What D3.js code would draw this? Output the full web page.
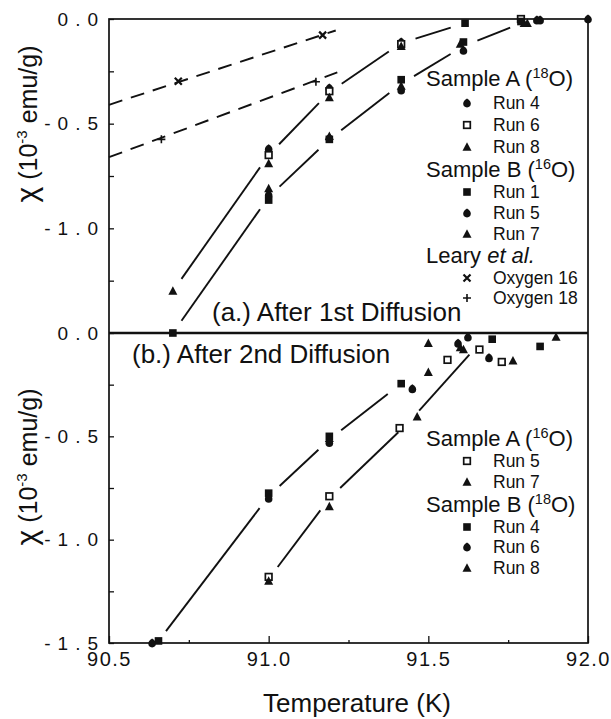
<!DOCTYPE html>
<html>
<head>
<meta charset="utf-8">
<script src="https://cdn.jsdelivr.net/npm/d3@7"></script>
<style>
  body { margin: 0; background: #fff; }
  text { font-family: "Liberation Sans", Arial, Helvetica, sans-serif; fill: #111; }
</style>
</head>
<body>
<div id="chart"></div>
<script>
// axis ticks
const xTicks = [90.5, 91.0, 91.5, 92.0];
const xMinor = [90.75, 91.25, 91.75];
const yTicksA = [0, -0.5, -1.0];
const yTicksB = [0, -0.5, -1.0, -1.5];
const yMinor = [-0.25, -0.75, -1.25];

// (a.) after 1st diffusion : [T (K), chi (1e-3 emu/g)]
const aSampleA4 = [[91.0, -0.62], [91.19, -0.33], [91.415, -0.11], [91.85, -0.005]];
const aSampleA6 = [[91.0, -0.65], [91.19, -0.345], [91.415, -0.12], [91.79, 0.0]];
const aSampleA8 = [[90.7, -1.30], [91.0, -0.69], [91.19, -0.375], [91.415, -0.13], [91.81, -0.02]];
const aSampleB1 = [[90.7, -1.50], [91.0, -0.865], [91.19, -0.575], [91.415, -0.29], [91.615, -0.02], [91.61, -0.11], [91.79, -0.012]];
const aSampleB5 = [[91.0, -0.84], [91.19, -0.57], [91.415, -0.34], [91.61, -0.15], [91.84, -0.005], [92.0, 0.0]];
const aSampleB7 = [[91.0, -0.81], [91.19, -0.56], [91.415, -0.32], [91.6, -0.12], [91.8, -0.02]];
const learyO16 = [[90.717, -0.297], [91.169, -0.077]];
const learyO18 = [[90.664, -0.575], [91.148, -0.30]];
const learyFit16 = [[90.5, -0.41], [91.21, -0.055]];
const learyFit18 = [[90.5, -0.66], [91.215, -0.255]];
const aGuideUpper = [[90.7, -1.30], [91.0, -0.65], [91.19, -0.35], [91.415, -0.115], [91.615, -0.02]];
const aGuideLower = [[90.7, -1.50], [91.0, -0.85], [91.19, -0.575], [91.415, -0.31], [91.61, -0.13], [91.8, -0.015]];

// (b.) after 2nd diffusion
const bSampleA5 = [[91.0, -1.18], [91.19, -0.79], [91.41, -0.46], [91.56, -0.13], [91.66, -0.08], [91.73, -0.14]];
const bSampleA7 = [[91.0, -1.20], [91.19, -0.84], [91.465, -0.405], [91.5, -0.19], [91.5, -0.05], [91.61, -0.08], [91.765, -0.135]];
const bSampleB4 = [[90.655, -1.49], [91.0, -0.775], [91.19, -0.50], [91.415, -0.245], [91.70, -0.03], [91.85, -0.065]];
const bSampleB6 = [[90.635, -1.50], [91.0, -0.80], [91.19, -0.53], [91.45, -0.27], [91.593, -0.05], [91.624, -0.02], [91.69, -0.12]];
const bSampleB8 = [[91.19, -0.51], [91.6, -0.07], [91.90, -0.02]];
const bGuideUpper = [[90.65, -1.5], [91.0, -0.79], [91.19, -0.515], [91.41, -0.25]];
const bGuideLower = [[91.0, -1.19], [91.19, -0.80], [91.44, -0.43], [91.66, -0.05]];

// legend text
const legendA = [
  { head: "Sample A (", iso: "18" },
  { run: "Run 4", mark: "circle" }, { run: "Run 6", mark: "open" }, { run: "Run 8", mark: "tri" },
  { head: "Sample B (", iso: "16" },
  { run: "Run 1", mark: "square" }, { run: "Run 5", mark: "circle" }, { run: "Run 7", mark: "tri" },
  { head: "Leary ", ital: "et al." },
  { run: "Oxygen 16", mark: "x" }, { run: "Oxygen 18", mark: "plus" }
];
const legendB = [
  { head: "Sample A (", iso: "16" },
  { run: "Run 5", mark: "open" }, { run: "Run 7", mark: "tri" },
  { head: "Sample B (", iso: "18" },
  { run: "Run 4", mark: "square" }, { run: "Run 6", mark: "circle" }, { run: "Run 8", mark: "tri" }
];

const width = 611, height = 719;
const plotL = 109, plotR = 588, plotT = 19, plotM = 333, plotB = 643;
// legend row baselines (layout)
const rowsA = [86, 109, 131, 153, 177, 198, 219, 240, 263, 284, 304];
const rowsB = [446, 467, 488, 512, 533, 553, 574];

const x = d3.scaleLinear().domain([90.5, 92.0]).range([plotL, plotR]);
const yA = d3.scaleLinear().domain([-1.5, 0]).range([plotM, plotT]);
const yB = d3.scaleLinear().domain([-1.5, 0]).range([plotB, plotM]);

const svg = d3.select("#chart").append("svg")
  .attr("width", width).attr("height", height);

function marker(g, type, px, py) {
  if (type === "square") {
    g.append("rect").attr("x", px - 3.8).attr("y", py - 3.8).attr("width", 7.6).attr("height", 7.6).attr("fill", "#111");
  } else if (type === "open") {
    g.append("rect").attr("x", px - 3.3).attr("y", py - 3.3).attr("width", 6.6).attr("height", 6.6)
      .attr("fill", "#fff").attr("stroke", "#111").attr("stroke-width", 1.7);
  } else if (type === "tri") {
    g.append("path").attr("transform", `translate(${px},${py})`)
      .attr("d", "M0,-4.8L4.5,3.7L-4.5,3.7Z").attr("fill", "#111");
  } else if (type === "circle") {
    g.append("path").attr("transform", `translate(${px},${py})`)
      .attr("d", "M0,-4.5C2.7,-2.7 3.8,-1.2 3.8,0.6A3.8,3.8 0 0 1 -3.8,0.6C-3.8,-1.2 -2.7,-2.7 0,-4.5Z").attr("fill", "#111");
  } else if (type === "x") {
    g.append("path").attr("transform", `translate(${px},${py})`)
      .attr("d", "M-3.5,-3.5L3.5,3.5M-3.5,3.5L3.5,-3.5").attr("stroke", "#111").attr("stroke-width", 2.2);
  } else if (type === "plus") {
    g.append("path").attr("transform", `translate(${px},${py})`)
      .attr("d", "M-4,0L4,0M0,-4L0,4").attr("stroke", "#111").attr("stroke-width", 1.6);
  }
}

function points(g, data, type, y) {
  data.forEach(d => marker(g, type, x(d[0]), y(d[1])));
}

// solid guide lines broken around the data clusters
function guide(g, knots, y, gap) {
  for (let i = 0; i < knots.length - 1; i++) {
    const x0 = x(knots[i][0]), y0 = y(knots[i][1]);
    const x1 = x(knots[i + 1][0]), y1 = y(knots[i + 1][1]);
    const len = Math.hypot(x1 - x0, y1 - y0);
    if (len <= 2 * gap) continue;
    const ux = (x1 - x0) / len, uy = (y1 - y0) / len;
    g.append("line")
      .attr("x1", x0 + ux * gap).attr("y1", y0 + uy * gap)
      .attr("x2", x1 - ux * gap).attr("y2", y1 - uy * gap)
      .attr("stroke", "#111").attr("stroke-width", 1.9);
  }
}

function dashed(g, knots, y) {
  g.append("path")
    .attr("d", d3.line().x(d => x(d[0])).y(d => y(d[1]))(knots))
    .attr("fill", "none").attr("stroke", "#111").attr("stroke-width", 1.9)
    .attr("stroke-dasharray", "14,9");
}

function legend(g, items, rows) {
  items.forEach((it, i) => {
    const yy = rows[i];
    if (it.head) {
      const t = g.append("text").attr("x", 426).attr("y", yy).attr("font-size", 22).text(it.head);
      if (it.iso) {
        t.append("tspan").attr("font-size", 14.5).attr("dy", -8).text(it.iso);
        t.append("tspan").attr("dy", 8).text("O)");
      }
      if (it.ital) t.append("tspan").attr("font-style", "italic").text(it.ital);
    } else {
      marker(g, it.mark, 467, yy - 6);
      g.append("text").attr("x", 493).attr("y", yy).attr("font-size", 17.5).text(it.run);
    }
  });
}

// axes
const fmt = d => d.toFixed(1);
function yAxis(scale, ticks) {
  const g = svg.append("g").attr("transform", `translate(${plotL},0)`);
  g.call(d3.axisLeft(scale).tickValues(ticks).tickFormat(fmt).tickSizeInner(-5).tickSizeOuter(0).tickPadding(4));
  g.append("g").call(d3.axisLeft(scale).tickValues(yMinor).tickFormat("").tickSizeInner(-5).tickSizeOuter(0));
  g.selectAll(".domain").remove();
  g.selectAll("line").attr("stroke", "#111").attr("stroke-width", 1.3);
  g.selectAll("text").attr("font-size", 19).attr("letter-spacing", "7px")
    .attr("font-family", "'Liberation Sans', Arial, sans-serif").attr("fill", "#111");
}
yAxis(yA, yTicksA);
yAxis(yB, yTicksB);

const gx = svg.append("g").attr("transform", `translate(0,${plotB})`);
gx.call(d3.axisBottom(x).tickValues(xTicks).tickFormat(fmt).tickSizeInner(-7).tickSizeOuter(0).tickPadding(9));
gx.append("g").call(d3.axisBottom(x).tickValues(xMinor).tickFormat("").tickSizeInner(-3).tickSizeOuter(0));
gx.selectAll(".domain").remove();
gx.selectAll("line").attr("stroke", "#111").attr("stroke-width", 1.3);
gx.selectAll("text").attr("font-size", 20).attr("letter-spacing", "1.5px")
  .attr("font-family", "'Liberation Sans', Arial, sans-serif").attr("fill", "#111");

// frames
svg.append("rect").attr("x", plotL).attr("y", plotT).attr("width", plotR - plotL).attr("height", plotB - plotT)
  .attr("fill", "none").attr("stroke", "#111").attr("stroke-width", 1.7);
svg.append("line").attr("x1", plotL).attr("x2", plotR).attr("y1", plotM).attr("y2", plotM)
  .attr("stroke", "#111").attr("stroke-width", 2.5);

// panel a
const pa = svg.append("g");
dashed(pa, learyFit16, yA);
dashed(pa, learyFit18, yA);
guide(pa, aGuideUpper, yA, 15);
guide(pa, aGuideLower, yA, 15);
points(pa, aSampleA4, "circle", yA);
points(pa, aSampleA6, "open", yA);
points(pa, aSampleA8, "tri", yA);
points(pa, aSampleB1, "square", yA);
points(pa, aSampleB5, "circle", yA);
points(pa, aSampleB7, "tri", yA);
points(pa, learyO16, "x", yA);
points(pa, learyO18, "plus", yA);
legend(pa, legendA, rowsA);
pa.append("text").attr("x", 212).attr("y", 321).attr("font-size", 26).text("(a.) After 1st Diffusion");

// panel b
const pb = svg.append("g");
guide(pb, bGuideUpper, yB, 15);
guide(pb, bGuideLower, yB, 15);
points(pb, bSampleA5, "open", yB);
points(pb, bSampleA7, "tri", yB);
points(pb, bSampleB4, "square", yB);
points(pb, bSampleB6, "circle", yB);
points(pb, bSampleB8, "tri", yB);
legend(pb, legendB, rowsB);
pb.append("text").attr("x", 132).attr("y", 363).attr("font-size", 26).text("(b.) After 2nd Diffusion");

// titles
function yTitle(cy) {
  const t = svg.append("text").attr("transform", `translate(37,${cy}) rotate(-90)`)
    .attr("text-anchor", "middle").attr("font-size", 25);
  t.append("tspan").attr("font-size", 30).text("χ");
  t.append("tspan").text(" (10");
  t.append("tspan").attr("font-size", 15).attr("dy", -10).text("-3");
  t.append("tspan").attr("dy", 10).text(" emu/g)");
}
yTitle(124);
yTitle(467);

svg.append("text").attr("x", 357).attr("y", 712).attr("text-anchor", "middle")
  .attr("font-size", 26).text("Temperature (K)");
</script>
</body>
</html>
